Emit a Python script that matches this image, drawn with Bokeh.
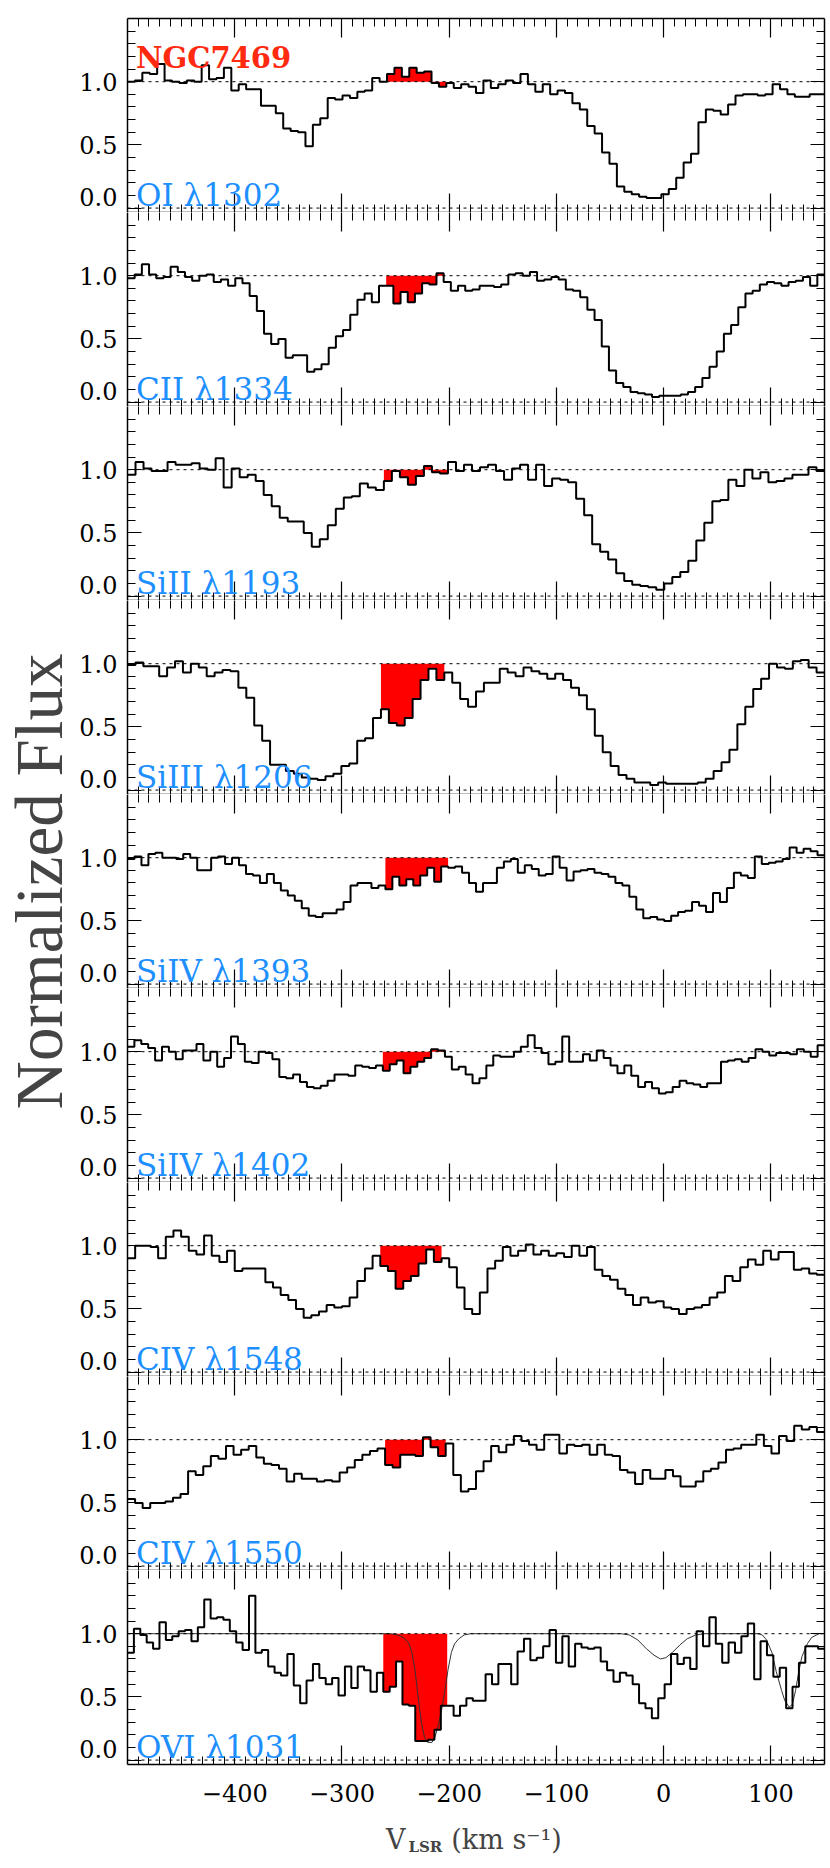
import numpy as np
from bokeh.plotting import figure
from bokeh.models import LinearAxis, FixedTicker, Span, Label, Range1d
from bokeh.layouts import column, row
from bokeh.embed import file_html
from bokeh.resources import INLINE

# ---------------- data ----------------
TITLE = "NGC7469"
ION_LABELS = ["OI λ1302", "CII λ1334", "SiII λ1193", "SiIII λ1206", "SiIV λ1393",
              "SiIV λ1402", "CIV λ1548", "CIV λ1550", "OVI λ1031"]
Y_TITLE = "Normalized Flux"

V_MIN, V_MAX = -500, 150          # velocity range (km/s)
FILL_VMIN, FILL_VMAX = -262, -204  # highlighted HVC component range
CONTINUUM = 1.0
ZERO = 0.0

OI_1302 = [1.00, 1.01, 1.07, 1.06, 1.14, 1.01, 1.00, 0.99, 1.01, 1.00, 1.13, 1.02, 1.03, 1.11, 0.93,
           0.98, 0.94, 0.94, 0.81, 0.81, 0.75, 0.63, 0.61, 0.60, 0.49, 0.66, 0.71, 0.87, 0.86, 0.89,
           0.87, 0.92, 0.93, 1.03, 1.00, 1.06, 1.11, 1.04, 1.11,
           1.07, 1.08, 0.99, 0.96, 0.99, 0.95, 0.98, 0.96, 0.91, 1.01, 0.95, 0.98, 1.01, 0.99, 1.06,
           0.98, 0.92, 0.98, 0.90, 0.93, 0.91, 0.83, 0.78, 0.65, 0.59, 0.44, 0.35, 0.17, 0.13, 0.11,
           0.09, 0.08, 0.08, 0.11, 0.15, 0.24, 0.36, 0.43, 0.68, 0.78, 0.77, 0.74, 0.82, 0.89, 0.90,
           0.90, 0.89, 0.90, 0.98, 0.94, 0.90, 0.88, 0.88, 0.90, 0.90]

CII_1334 = [0.98, 1.01, 1.09, 1.01, 0.98, 0.99, 1.07, 1.03, 0.99, 0.96, 1.00, 1.01, 0.95, 0.97, 0.92,
            0.98, 0.94, 0.84, 0.72, 0.54, 0.46, 0.50, 0.35, 0.37, 0.37, 0.24, 0.26, 0.30, 0.43, 0.52,
            0.57, 0.69, 0.81, 0.86, 0.79, 0.92, 0.92, 0.78, 0.87, 0.79, 0.86, 0.94, 0.93, 1.02, 0.95,
            0.88, 0.92, 0.88, 0.89, 0.92, 0.92, 0.91, 0.93, 1.01, 1.02, 1.00, 1.03, 0.96, 0.97, 0.99,
            0.97, 0.89, 0.88, 0.83, 0.73, 0.65, 0.44, 0.25, 0.15, 0.12, 0.08, 0.07, 0.06, 0.04, 0.05,
            0.05, 0.05, 0.06, 0.08, 0.12, 0.19, 0.28, 0.40, 0.54, 0.61, 0.75, 0.86, 0.88, 0.93, 0.95,
            0.94, 0.92, 0.95, 0.96, 0.99, 0.92, 1.01]

SIII_1193 = [0.96, 1.06, 1.01, 0.99, 0.99, 1.06, 1.04, 1.04, 1.05, 1.01, 1.00, 1.09, 0.86, 1.01, 0.94,
             0.96, 0.91, 0.80, 0.71, 0.62, 0.59, 0.59, 0.50, 0.39, 0.45, 0.56, 0.69, 0.78, 0.79, 0.89,
             0.86, 0.84, 0.91, 0.99, 0.94, 0.88, 0.95, 1.03, 0.98, 0.97, 1.06, 0.99, 1.04, 0.99, 1.02,
             1.04, 0.99, 0.92, 1.01, 1.04, 0.92, 1.04, 0.87, 0.93, 0.92, 0.90, 0.77, 0.64, 0.41, 0.35,
             0.29, 0.18, 0.12, 0.09, 0.08, 0.07, 0.05, 0.10, 0.15, 0.19, 0.28, 0.44, 0.58, 0.75, 0.76,
             0.92, 0.87, 1.00, 0.93, 0.98, 0.90, 0.91, 0.93, 0.96, 0.96, 1.02, 0.99]

SIIII_1206 = [0.99, 1.01, 0.98, 0.98, 0.90, 0.97, 1.02, 0.93, 1.00, 0.97, 0.90, 0.93, 0.95, 0.94, 0.81,
              0.73, 0.51, 0.39, 0.20, 0.20, 0.15, 0.13, 0.10, 0.09, 0.08, 0.11, 0.13, 0.19, 0.21, 0.39,
              0.41, 0.57, 0.64, 0.53, 0.51, 0.57, 0.72,
              0.87, 0.96, 0.87, 0.93, 0.85, 0.72, 0.66, 0.78, 0.85, 0.85, 0.96, 0.93, 0.90, 0.97, 0.94,
              0.92, 0.88, 0.92, 0.87, 0.81, 0.75, 0.64, 0.43, 0.30, 0.19, 0.12, 0.09, 0.06, 0.06, 0.04,
              0.06, 0.05, 0.05, 0.05, 0.05, 0.06, 0.09, 0.15, 0.22, 0.32, 0.52, 0.66, 0.80, 0.88, 1.00,
              0.97, 0.96, 1.02, 1.03, 0.97, 0.93]

SIIV_1393 = [0.99, 1.01, 0.94, 1.03, 1.04, 1.00, 1.00, 0.99, 1.03, 1.00, 0.90, 0.90, 1.00, 1.01, 0.95,
             1.00, 0.94, 0.87, 0.86, 0.80, 0.87, 0.80, 0.74, 0.70, 0.66, 0.60, 0.54, 0.53, 0.56, 0.56,
             0.59, 0.65, 0.78, 0.80, 0.80, 0.76, 0.78, 0.75, 0.85, 0.78, 0.83, 0.78, 0.86, 0.92, 0.81,
             0.93, 0.92, 0.93, 0.88, 0.80, 0.73, 0.80, 0.80, 0.92, 0.97, 0.99, 0.88, 0.94, 0.91, 0.86,
             0.87, 1.01, 0.92, 0.82, 0.89, 0.90, 0.91, 0.88, 0.87, 0.85, 0.80, 0.78, 0.69, 0.59, 0.52,
             0.53, 0.51, 0.50, 0.54, 0.57, 0.58, 0.65, 0.62, 0.57, 0.72, 0.65, 0.76, 0.88, 0.86, 0.84,
             1.01, 0.95, 0.96, 0.97, 0.99, 1.08, 1.04, 1.07, 1.05, 1.02]

SIIV_1402 = [1.04, 1.09, 1.06, 1.03, 0.93, 1.04, 1.00, 0.94, 1.01, 1.01, 1.06, 0.93, 1.00, 0.88, 0.95,
             1.12, 1.06, 0.92, 0.91, 1.00, 0.99, 0.94, 0.80, 0.79, 0.82, 0.76, 0.72, 0.71, 0.73, 0.77,
             0.82, 0.82, 0.81, 0.89, 0.88, 0.87, 0.89, 0.85, 0.90, 0.93, 0.83, 0.88, 0.92, 0.95, 1.02,
             1.01, 0.96, 0.86, 0.88, 0.82, 0.75, 0.79, 0.89, 0.97, 0.96, 0.96, 1.00, 1.04, 1.13, 1.03,
             0.99, 0.90, 0.92, 1.12, 0.92, 0.92, 0.98, 0.93, 1.01, 0.95, 0.89, 0.83, 0.89, 0.81, 0.72,
             0.76, 0.71, 0.67, 0.68, 0.72, 0.77, 0.75, 0.74, 0.72, 0.75, 0.75, 0.92, 0.93, 0.94, 0.92,
             0.95, 1.02, 1.00, 0.97, 0.99, 0.99, 0.98, 1.02, 1.00, 0.96, 1.05]

CIV_1548 = [0.90, 1.00, 1.00, 0.99, 0.90, 1.07, 1.12, 1.07, 0.96, 0.93, 1.08, 0.92, 0.87, 0.96, 0.80,
            0.82, 0.82, 0.82, 0.71, 0.67, 0.61, 0.57, 0.50, 0.43, 0.45, 0.48, 0.53, 0.51, 0.52, 0.59,
            0.72, 0.82, 0.92, 0.84, 0.80, 0.66, 0.72, 0.76, 0.86, 0.97, 0.87, 0.90, 0.83, 0.67, 0.50,
            0.46, 0.63, 0.82, 0.88, 0.99, 0.92, 0.96, 1.01, 0.93, 0.96, 0.92, 0.94, 0.91, 1.00, 0.92,
            0.99, 0.81, 0.76, 0.73, 0.66, 0.61, 0.53, 0.59, 0.55, 0.56, 0.51, 0.50, 0.46, 0.50, 0.51,
            0.53, 0.59, 0.63, 0.76, 0.72, 0.83, 0.89, 0.85, 0.96, 0.89, 0.95, 0.95, 0.81, 0.82, 0.78,
            0.77]

CIV_1550 = [0.53, 0.50, 0.46, 0.50, 0.50, 0.51, 0.54, 0.57, 0.75, 0.72, 0.79, 0.87, 0.85, 0.95, 0.88,
            0.92, 0.95, 0.86, 0.81, 0.80, 0.77, 0.67, 0.73, 0.69, 0.69, 0.67, 0.68, 0.67, 0.74, 0.78,
            0.84, 0.88, 0.91, 0.93, 0.80, 0.78, 0.88, 0.88, 0.87, 1.02, 0.94, 0.87, 0.97, 0.72, 0.59,
            0.61, 0.75, 0.83, 0.95, 0.90, 0.96, 1.03, 0.99, 0.96, 0.92, 1.04, 1.04, 0.89, 0.96, 0.95,
            0.96, 0.88, 0.96, 0.88, 0.87, 0.76, 0.74, 0.65, 0.76, 0.69, 0.69, 0.76, 0.71, 0.63, 0.63,
            0.67, 0.75, 0.77, 0.82, 0.92, 0.93, 0.96, 0.96, 1.04, 0.95, 0.89, 1.03, 0.99, 1.11, 1.08,
            1.10, 1.06]

OVI_1031 = [0.85, 1.04, 0.99, 0.93, 0.88, 1.09, 0.95, 0.98, 1.02, 1.03, 0.94, 1.05, 1.27, 1.12, 1.13,
            1.11, 1.02, 0.93, 0.87, 1.30, 0.85, 0.87, 0.74, 0.69, 0.67, 0.84, 0.59, 0.45, 0.63, 0.76,
            0.65, 0.60, 0.65, 0.51, 0.74, 0.57, 0.74, 0.71, 0.54, 0.69, 0.54, 0.58, 0.78, 0.44, 0.43,
            0.15, 0.15, 0.16, 0.24, 0.43, 0.43, 0.35, 0.43, 0.49, 0.47, 0.47, 0.68, 0.60, 0.76, 0.76,
            0.60, 0.86, 0.96, 0.79, 0.81, 0.90, 1.03, 0.77, 0.98, 0.74, 0.92, 0.89, 0.88, 0.89, 0.78,
            0.71, 0.62, 0.69, 0.67, 0.60, 0.45, 0.41, 0.33, 0.49, 0.60, 0.84, 0.76, 0.81, 0.72, 1.02,
            0.90, 1.13, 0.92, 0.77, 0.93, 0.85, 0.98, 1.08, 0.64, 0.94, 0.83, 0.66, 0.73, 0.41, 0.58,
            0.77, 0.90, 0.90, 0.88]

# model profile overplotted on the O VI panel (velocity, normalized flux)
OVI_MODEL_V = [-500, -255, -248, -243, -238, -235, -232, -229, -226, -223, -220, -216, -213, -210,
               -207, -204, -201, -198, -195, -191, -186, -180, -40, -32, -24, -16, -9, -3, 2, 8, 15,
               22, 30, 38, 88, 92, 96, 101, 105, 110, 113, 117, 120, 123, 126, 129, 134, 138, 145, 150]
OVI_MODEL_F = [1.0, 1.0, 0.99, 0.97, 0.93, 0.86, 0.72, 0.50, 0.30, 0.18, 0.14, 0.14, 0.19, 0.28,
               0.40, 0.55, 0.72, 0.85, 0.92, 0.96, 0.99, 1.0, 1.0, 0.99, 0.95, 0.88, 0.83, 0.80, 0.81,
               0.85, 0.91, 0.96, 0.99, 1.0, 1.0, 0.99, 0.95, 0.85, 0.70, 0.55, 0.47, 0.42, 0.44, 0.55,
               0.70, 0.82, 0.92, 0.97, 1.0, 1.0]

SPECTRA = [OI_1302, CII_1334, SIII_1193, SIIII_1206, SIIV_1393, SIIV_1402, CIV_1548, CIV_1550, OVI_1031]

X_MAJOR = [-400, -300, -200, -100, 0, 100]
X_LABELS = {-400: "\u2212400", -300: "\u2212300", -200: "\u2212200", -100: "\u2212100", 0: "0", 100: "100"}
X_MINOR = [v for v in range(-490, 150, 10) if v % 100 != 0]
Y_MAJOR = [0.0, 0.5, 1.0]
Y_MINOR = [0.1, 0.2, 0.3, 0.4, 0.6, 0.7, 0.8, 0.9, 1.1, 1.2, 1.3, 1.4]
# tick-label anchor positions (the "0.0" label sits a little above its tick, as in the original)
Y_LABEL_POS = [0.09, 0.5, 1.0]
Y_LABEL_TEXT = {0.09: "0.0", 0.5: "0.5", 1.0: "1.0"}
Y_MIN, Y_MAX = -0.035, 1.5

# ---------------- styling ----------------
SERIF = "DejaVu Serif"
TIMES = "Liberation Serif"
RED = "#FF0000"
TITLE_RED = "#FF2A10"
BLUE = "#1E8FFF"
FRAME_W, FRAME_H = 697, 194
LEFT_BORDER = 48
RIGHT_BORDER = 4
TOP_BORDER = 18
BOTTOM_BORDER = 50
XTITLE_H = 52
YLAB_W = 124 - LEFT_BORDER


def style_axis(ax, tick_major, tick_minor, show_line=True):
    ax.axis_line_color = "black" if show_line else None
    ax.axis_line_width = 1.5
    ax.major_tick_line_color = "black"
    ax.minor_tick_line_color = "black"
    ax.major_tick_line_width = 1.2
    ax.minor_tick_line_width = 1.0
    ax.major_tick_in = tick_major
    ax.major_tick_out = 0
    ax.minor_tick_in = tick_minor
    ax.minor_tick_out = 0


def hide_labels(ax):
    ax.major_label_text_color = None
    ax.major_label_standoff = 0


def make_panel(k):
    first = k == 0
    last = k == len(SPECTRA) - 1
    flux = SPECTRA[k]
    n = len(flux)
    edges = np.linspace(V_MIN, V_MAX, n + 1)
    centers = 0.5 * (edges[:-1] + edges[1:])

    p = figure(frame_width=FRAME_W, frame_height=FRAME_H,
               x_range=Range1d(V_MIN, V_MAX), y_range=Range1d(Y_MIN, Y_MAX),
               x_axis_type=None, y_axis_type=None,
               toolbar_location=None, output_backend="svg",
               min_border_left=LEFT_BORDER, min_border_right=RIGHT_BORDER,
               min_border_top=TOP_BORDER if first else 0,
               min_border_bottom=BOTTOM_BORDER if last else 0)
    p.outline_line_color = None
    p.background_fill_color = "white"
    p.border_fill_color = "white"

    # highlighted component
    sel = np.where((centers >= FILL_VMIN) & (centers <= FILL_VMAX))[0]
    i0, i1 = int(sel[0]), int(sel[-1])
    fx = list(edges[i0:i1 + 2])
    fy = list(flux[i0:i1 + 1]) + [flux[i1]]
    p.varea_step(x=fx, y1=[CONTINUUM] * len(fx), y2=fy, step_mode="after",
                 fill_color=RED, fill_alpha=1.0)

    p.add_layout(Span(location=CONTINUUM, dimension="width", line_color="black",
                      line_width=1, line_dash="3 4"))
    p.add_layout(Span(location=ZERO, dimension="width", line_color="black",
                      line_width=1, line_dash="3 4"))

    if last:
        p.line(OVI_MODEL_V, OVI_MODEL_F, line_color="#333333", line_width=1)

    p.step(x=list(edges), y=list(flux) + [flux[-1]], mode="after",
           line_color="black", line_width=2)

    # axes
    xt = FixedTicker(ticks=X_MAJOR, minor_ticks=X_MINOR)
    yt = FixedTicker(ticks=Y_MAJOR, minor_ticks=Y_MINOR)

    bx = LinearAxis(ticker=xt)
    style_axis(bx, 19, 8)
    if last:
        bx.major_label_overrides = X_LABELS
        bx.major_label_text_font = SERIF
        bx.major_label_text_font_size = "24px"
        bx.major_label_text_color = "black"
        bx.major_label_standoff = 19
    else:
        hide_labels(bx)
    p.add_layout(bx, "below")

    tx = LinearAxis(ticker=xt)
    style_axis(tx, 19, 8, show_line=first)
    hide_labels(tx)
    p.add_layout(tx, "above")

    # left: ticks on the frame, labels on a second, tick-less axis
    ly = LinearAxis(ticker=yt)
    style_axis(ly, 14, 8)
    hide_labels(ly)
    p.add_layout(ly, "left")

    lyl = LinearAxis(ticker=FixedTicker(ticks=Y_LABEL_POS, minor_ticks=[]))
    lyl.axis_line_color = None
    lyl.major_tick_line_color = None
    lyl.minor_tick_line_color = None
    lyl.major_tick_in = 0
    lyl.major_tick_out = 0
    lyl.minor_tick_in = 0
    lyl.minor_tick_out = 0
    lyl.major_label_overrides = Y_LABEL_TEXT
    lyl.major_label_text_font = SERIF
    lyl.major_label_text_font_size = "24px"
    lyl.major_label_text_color = "black"
    lyl.major_label_standoff = 10
    p.add_layout(lyl, "left")

    ry = LinearAxis(ticker=yt)
    style_axis(ry, 14, 8)
    hide_labels(ry)
    p.add_layout(ry, "right")

    # ion label
    p.add_layout(Label(x=-492, y=0.1, text=ION_LABELS[k], text_font=SERIF,
                       text_font_size="31px", text_color=BLUE,
                       text_baseline="alphabetic", text_align="left"))
    if first:
        p.add_layout(Label(x=-492, y=1.19, text=TITLE, text_font=SERIF,
                           text_font_size="29px", text_font_style="bold",
                           text_color=TITLE_RED, text_baseline="alphabetic",
                           text_align="left"))
    return p


panels = [make_panel(k) for k in range(len(SPECTRA))]

# x-axis title (V_LSR with subscript) in its own strip below the panels
xt_fig = figure(frame_width=FRAME_W, frame_height=XTITLE_H,
                x_range=Range1d(V_MIN, V_MAX), y_range=Range1d(0, 1),
                x_axis_type=None, y_axis_type=None, toolbar_location=None,
                output_backend="svg", min_border_left=LEFT_BORDER,
                min_border_right=RIGHT_BORDER, min_border_top=0, min_border_bottom=0)
xt_fig.outline_line_color = None
xt_fig.add_layout(Label(x=-259, y=0.52, text="V", text_font=SERIF, text_font_size="27px",
                        text_baseline="alphabetic", text_align="left"))
xt_fig.add_layout(Label(x=-238, y=0.38, text="LSR", text_font=SERIF, text_font_size="15px",
                        text_font_style="bold", text_baseline="alphabetic", text_align="left"))
xt_fig.add_layout(Label(x=-198, y=0.52, text="(km s\u207b\u00b9)", text_font=SERIF,
                        text_font_size="27px", text_baseline="alphabetic", text_align="left"))

total_h = TOP_BORDER + FRAME_H * len(SPECTRA) + BOTTOM_BORDER + XTITLE_H

ylab = figure(width=YLAB_W, height=total_h, x_range=Range1d(0, 1), y_range=Range1d(0, 1),
              x_axis_type=None, y_axis_type=None, toolbar_location=None,
              output_backend="svg", min_border=0)
ylab.outline_line_color = None
ylab.add_layout(Label(x=38, y=total_h - 881, x_units="screen", y_units="screen",
                      text=Y_TITLE, angle=np.pi / 2, text_font=TIMES,
                      text_font_size="67px", text_align="center", text_baseline="alphabetic"))

layout = row(ylab, column(*panels, xt_fig, spacing=0), spacing=0)

with open("out.html", "w") as f:
    f.write(file_html(layout, INLINE))
